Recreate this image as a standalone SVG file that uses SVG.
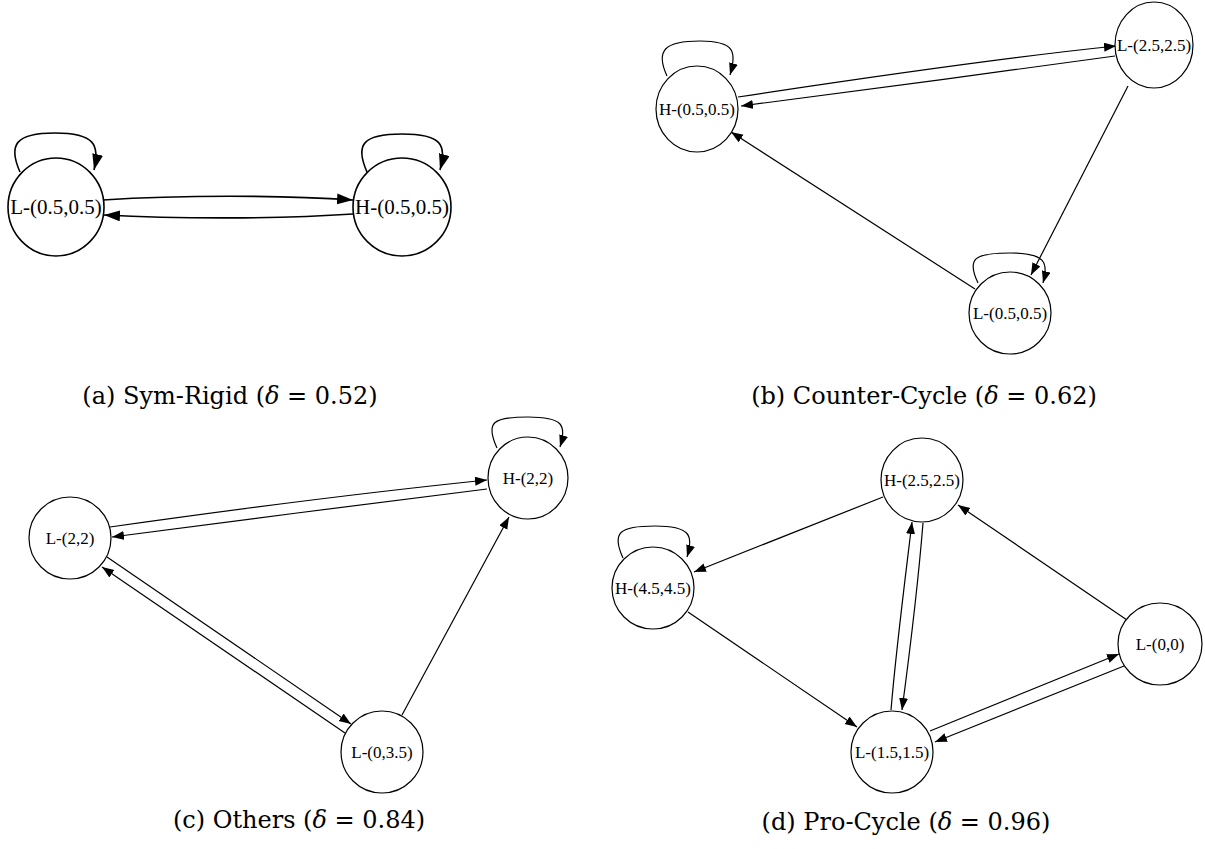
<svg xmlns="http://www.w3.org/2000/svg" width="1205" height="849" viewBox="0 0 1205 849">
<defs>
<marker id="arrA" markerUnits="userSpaceOnUse" markerWidth="17" markerHeight="12" refX="16" refY="5.5" orient="auto"><path d="M0,0 L16,5.5 L0,11 z" fill="#000"/></marker>
<marker id="arr" markerUnits="userSpaceOnUse" markerWidth="13" markerHeight="10" refX="12" refY="4.5" orient="auto"><path d="M0,0 L12,4.5 L0,9 z" fill="#000"/></marker>
<style>
.n{fill:#fff;stroke:#000;stroke-width:1.2}
.na{fill:#fff;stroke:#000;stroke-width:1.6}
.e{fill:none;stroke:#000;stroke-width:1.2;marker-end:url(#arr)}
.ea{fill:none;stroke:#000;stroke-width:1.6;marker-end:url(#arrA)}
.t{font-family:"Liberation Serif","Times New Roman",serif;font-size:17px;text-anchor:middle;fill:#000}
.ta{font-family:"Liberation Serif","Times New Roman",serif;font-size:21px;text-anchor:middle;fill:#000}
.cap{font-family:"DejaVu Serif","Liberation Serif",serif;font-size:24px;text-anchor:middle;fill:#000}
</style>
</defs>
<rect width="1205" height="849" fill="#fff"/>
<g id="connectors">
<path class="ea" d="M20,172 C8,145 15,133 55,133 C95,133 100,145 94,170"/>
<path class="ea" d="M367,172 C355,145 362,134 402,134 C442,134 447,145 440,170"/>
<path class="ea" d="M103,200 C180,195 280,195 353,200"/>
<path class="ea" d="M353,214 C280,219 180,219 104,215"/>
<path class="e" d="M667,76 C655,50 665,41 700,41 C735,41 737,52 730,75"/>
<path class="e" d="M738,97 C850,80 1000,58 1116,46"/>
<path class="e" d="M1115,56 C1000,72 850,92 741,106"/>
<path class="e" d="M1128,86 L1031,275"/>
<path class="e" d="M978,283 C966,258 975,253 1010,253 C1045,253 1049,262 1043,283"/>
<path class="e" d="M975,289 L731,132"/>
<path class="e" d="M497,448 C485,422 493,417 528,417 C563,417 567,425 560,447"/>
<path class="e" d="M110,527 C230,510 370,492 487,480"/>
<path class="e" d="M487,489 C370,503 230,522 112,537"/>
<path class="e" d="M107,557 L351,724"/>
<path class="e" d="M345,733 L102,567"/>
<path class="e" d="M402,715 L509,517"/>
<path class="e" d="M623,558 C611,532 620,526 655,526 C690,526 694,535 687,557"/>
<path class="e" d="M883,497 L694,572"/>
<path class="e" d="M688,612 L857,727"/>
<path class="e" d="M891,710 C896,650 905,580 912,522"/>
<path class="e" d="M923,523 C918,585 910,650 902,710"/>
<path class="e" d="M1127,620 L958,505"/>
<path class="e" d="M930,731 L1119,654"/>
<path class="e" d="M1124,666 L935,742"/>
</g>
<g id="a-L05"><ellipse class="na" cx="56" cy="207" rx="48" ry="49"/><text class="ta" x="56" y="214">L-(0.5,0.5)</text></g>
<g id="a-H05"><ellipse class="na" cx="402" cy="207" rx="49" ry="49"/><text class="ta" x="402" y="214">H-(0.5,0.5)</text></g>
<g id="b-H05"><ellipse class="n" cx="697" cy="109" rx="41" ry="43"/><text class="t" x="697" y="115">H-(0.5,0.5)</text></g>
<g id="b-L25"><ellipse class="n" cx="1154" cy="45" rx="39" ry="43"/><text class="t" x="1154" y="51">L-(2.5,2.5)</text></g>
<g id="b-L05"><ellipse class="n" cx="1010" cy="313" rx="41" ry="41"/><text class="t" x="1010" y="319">L-(0.5,0.5)</text></g>
<g id="c-L22"><ellipse class="n" cx="70" cy="538" rx="41" ry="41"/><text class="t" x="70" y="544">L-(2,2)</text></g>
<g id="c-H22"><ellipse class="n" cx="528" cy="478" rx="40" ry="41"/><text class="t" x="528" y="484">H-(2,2)</text></g>
<g id="c-L035"><ellipse class="n" cx="382" cy="752" rx="41" ry="41"/><text class="t" x="382" y="758">L-(0,3.5)</text></g>
<g id="d-H25"><ellipse class="n" cx="922" cy="480" rx="41" ry="42"/><text class="t" x="922" y="486">H-(2.5,2.5)</text></g>
<g id="d-H45"><ellipse class="n" cx="653" cy="588" rx="41" ry="41"/><text class="t" x="653" y="594">H-(4.5,4.5)</text></g>
<g id="d-L15"><ellipse class="n" cx="892" cy="752" rx="41" ry="41"/><text class="t" x="892" y="758">L-(1.5,1.5)</text></g>
<g id="d-L00"><ellipse class="n" cx="1160" cy="644" rx="42" ry="41"/><text class="t" x="1160" y="650">L-(0,0)</text></g>
<g id="captions">
<text class="cap" x="230" y="404">(a) Sym-Rigid (<tspan font-style="italic">δ</tspan> = 0.52)</text>
<text class="cap" x="924" y="404">(b) Counter-Cycle (<tspan font-style="italic">δ</tspan> = 0.62)</text>
<text class="cap" x="299" y="828">(c) Others (<tspan font-style="italic">δ</tspan> = 0.84)</text>
<text class="cap" x="906" y="830">(d) Pro-Cycle (<tspan font-style="italic">δ</tspan> = 0.96)</text>
</g>
</svg>
